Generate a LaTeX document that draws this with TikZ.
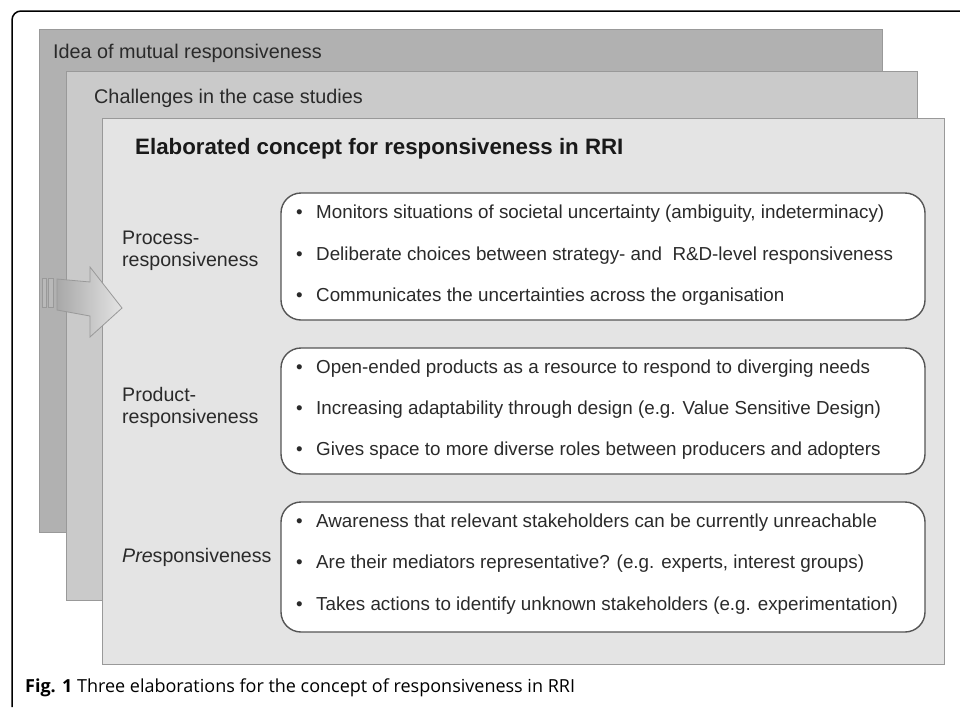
\documentclass[tikz,border=0pt]{standalone}
\usepackage{fontspec}
\setmainfont{Liberation Sans}
\newfontfamily\capfont{Open Sans}
\usetikzlibrary{shadings}
\definecolor{layA}{HTML}{B1B1B1}
\definecolor{layB}{HTML}{CACACA}
\definecolor{layC}{HTML}{E4E4E4}
\definecolor{edgegray}{HTML}{999999}
\definecolor{txt}{HTML}{2A2A2A}
\definecolor{boxedge}{HTML}{555555}
\tikzset{
  layer/.style={draw=edgegray, line width=1pt},
  lbl/.style={anchor=west, inner sep=0pt, text=txt, font=\fontsize{19.8}{22}\selectfont, align=left},
  bul/.style={anchor=west, inner sep=0pt, text=txt, font=\fontsize{18.8}{22}\selectfont},
  bbox/.style={draw=boxedge, line width=1.4pt, fill=white, rounded corners=20pt},
}
\begin{document}
\begin{tikzpicture}[x=1pt,y=-1pt]
\useasboundingbox (0,0) rectangle (960,707);
% outer frame
\draw[line width=1.5pt, rounded corners=9pt] (12,707) -- (12,11) -- (960,11);
% layers
\filldraw[layer, fill=layA] (39,29) rectangle (882,532);
\node[lbl] (idea) at (53,53) {Idea of mutual responsiveness};
\filldraw[layer, fill=layB] (66,71) rectangle (917,600);
\node[lbl] (chal) at (94,98) {Challenges in the case studies};
% arrow stripes
\filldraw[draw=edgegray, fill=layA!90!white] (42,278) rectangle (46,307);
\filldraw[draw=edgegray, fill=layA!90!white] (48,278) rectangle (53,307);
\filldraw[layer, fill=layC] (102,118) rectangle (944,664);
% arrow
\shade[left color=layA!95!black, right color=layC, draw=edgegray, line width=0.8pt]
  (57,279) -- (90,282) -- (90,267) -- (122,308) -- (90,337) -- (90,316) -- (57,310) -- cycle;
\node[lbl, font=\bfseries\fontsize{22.3}{26}\selectfont, text=black!90] (title) at (135,149) {Elaborated concept for responsiveness in RRI};
% boxes
\draw[bbox] (281,193) rectangle (925,320);
\draw[bbox] (281,348) rectangle (925,474);
\draw[bbox] (281,502) rectangle (925,632);
% labels
\node[lbl, font=\fontsize{19.6}{22}\selectfont] (proc) at (122,251) {Process-\\responsiveness};
\node[lbl, font=\fontsize{19.6}{22}\selectfont] (prod) at (122,407) {Product-\\responsiveness};
\node[lbl, font=\fontsize{19.6}{22}\selectfont] (pres) at (122,557) {\textit{Pre}sponsiveness};
% bullets
\foreach \y/\t [count=\i] in {
 214/{Monitors situations of societal uncertainty (ambiguity, indeterminacy)},
 256/{Deliberate choices between strategy- and \ R\&D-level responsiveness},
 297/{Communicates the uncertainties across the organisation},
 369/{Open-ended products as a resource to respond to diverging needs},
 410/{Increasing adaptability through design (e.g. Value Sensitive Design)},
 451/{Gives space to more diverse roles between producers and adopters},
 523/{Awareness that relevant stakeholders can be currently unreachable},
 564/{Are their mediators representative? (e.g. experts, interest groups)},
 606/{Takes actions to identify unknown stakeholders (e.g. experimentation)}}{
  \node[bul] (dot\i) at (296,\y) {•};
  \node[bul] (item\i) at (316,\y) {\t};
}
% caption
\node[anchor=west, inner sep=0pt, font=\capfont\fontsize{18}{22}\selectfont] (cap) at (25,688) {\textbf{Fig. 1} Three elaborations for the concept of responsiveness in RRI};
\end{tikzpicture}
\end{document}
